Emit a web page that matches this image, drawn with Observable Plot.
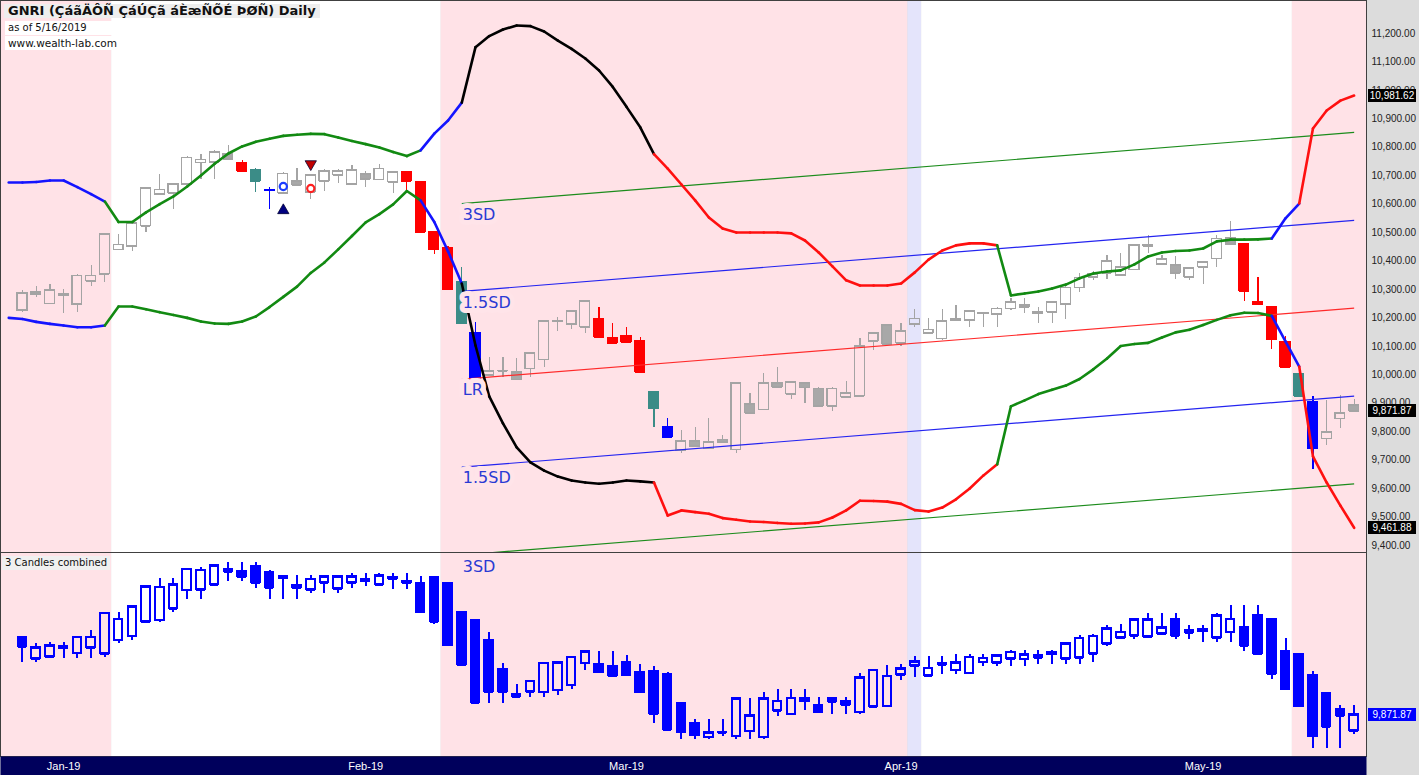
<!DOCTYPE html>
<html>
<head>
<meta charset="utf-8">
<script src="https://cdn.jsdelivr.net/npm/d3@7"></script>
<script src="https://cdn.jsdelivr.net/npm/@observablehq/plot@0.6"></script>
<style>
  html, body { margin: 0; padding: 0; background: #ffffff; }
  #chart { position: relative; width: 1419px; height: 775px; background: #dcdcdc; overflow: hidden;
           font-family: "Liberation Sans", Arial, sans-serif; }
  #chart > svg { position: absolute; left: 0; }
  .note { position: absolute; white-space: nowrap; color: #111; line-height: 14px; font-family: "DejaVu Sans", sans-serif; }
  .tag { position: absolute; left: 1368px; width: 48px; height: 13px; line-height: 13px;
         font-size: 10px; color: #fff; text-align: center; }
</style>
</head>
<body>
<div id="chart"></div>
<script>
// ---- Daily sessions. Index 0 is the first session on screen; the two sessions
// before it (-2, -1) only feed the three-bar combination in the lower pane.
const firstIndex = -2;
const open = [10347, 10214,
  10226, 10290, 10250, 10282, 10247, 10329, 10353, 10440, 10451, 10522,
  10634, 10638, 10669, 10746, 10747, 10777, 10744, 10721, 10650, 10638,
  10680, 10642, 10681, 10702, 10669, 10704, 10686, 10677, 10712, 10677,
  10501, 10447, 10326, 10148, 9998, 10012, 10009, 10021, 10053, 10186,
  10177, 10167, 10194, 10130, 10135, 10117, 9939, 9816, 9734, 9766,
  9740, 9771, 9736, 9896, 9877, 9970, 9931, 9970, 9951, 9889,
  9921, 9924, 10118, 10173, 10111, 10177, 10146, 10127, 10195, 10191,
  10214, 10212, 10232, 10244, 10214, 10220, 10247, 10306, 10343, 10357,
  10349, 10369, 10453, 10388, 10384, 10343, 10378, 10408, 10482, 10458,
  10257, 10238, 10115, 10003, 9904, 9775, 9845, 9892];
const high = [10350, 10262,
  10295, 10310, 10317, 10299, 10352, 10385, 10498, 10492, 10536, 10660,
  10704, 10672, 10766, 10775, 10787, 10806, 10753, 10724, 10660, 10710,
  10724, 10704, 10720, 10720, 10736, 10716, 10738, 10716, 10715, 10680,
  10504, 10450, 10378, 10185, 10060, 10060, 10056, 10079, 10192, 10200,
  10227, 10262, 10236, 10181, 10165, 10130, 9942, 9845, 9804, 9816,
  9845, 9787, 9974, 9935, 10006, 10027, 9977, 9973, 9954, 9954,
  9978, 10127, 10149, 10176, 10181, 10229, 10197, 10229, 10244, 10227,
  10220, 10235, 10267, 10267, 10236, 10258, 10309, 10357, 10364, 10419,
  10425, 10458, 10490, 10419, 10416, 10378, 10399, 10490, 10540, 10461,
  10341, 10241, 10135, 10006, 9924, 9910, 9927, 9912];
const low = [10240, 10190,
  10218, 10272, 10247, 10217, 10220, 10310, 10326, 10436, 10435, 10501,
  10630, 10580, 10665, 10686, 10686, 10755, 10712, 10642, 10580, 10634,
  10662, 10615, 10646, 10672, 10666, 10660, 10683, 10636, 10642, 10498,
  10423, 10296, 10176, 9944, 9995, 9992, 9980, 9992, 10025, 10153,
  10158, 10144, 10130, 10109, 10113, 10006, 9816, 9778, 9722, 9745,
  9737, 9760, 9724, 9862, 9874, 9953, 9912, 9900, 9886, 9872,
  9916, 9920, 10085, 10104, 10100, 10167, 10143, 10121, 10188, 10165,
  10165, 10165, 10226, 10214, 10181, 10179, 10193, 10290, 10332, 10334,
  10345, 10365, 10428, 10385, 10334, 10332, 10317, 10378, 10455, 10259,
  10245, 10088, 10024, 9920, 9666, 9751, 9810, 9869];
const close = [10250, 10226,
  10287, 10282, 10296, 10278, 10348, 10348, 10493, 10457, 10533, 10657,
  10651, 10669, 10763, 10756, 10783, 10759, 10716, 10681, 10648, 10707,
  10666, 10701, 10716, 10716, 10718, 10688, 10724, 10712, 10681, 10501,
  10440, 10299, 10179, 9946, 10012, 10014, 9982, 10076, 10188, 10190,
  10224, 10259, 10132, 10111, 10115, 10009, 9880, 9781, 9766, 9748,
  9763, 9762, 9970, 9865, 9970, 9956, 9974, 9954, 9889, 9951,
  9935, 10100, 10146, 10107, 10153, 10197, 10158, 10188, 10191, 10224,
  10217, 10232, 10255, 10238, 10220, 10255, 10306, 10341, 10353, 10399,
  10378, 10455, 10455, 10405, 10357, 10375, 10396, 10478, 10458, 10294,
  10247, 10123, 10027, 9924, 9740, 9798, 9865, 9871.87];

// Highlight of each visible session: g = plain, r = red, t = teal, b = blue
const candleKind = [
  "g","g","g","g","g","g","g","g","g","g","g","g","g","g","g","g",
  "r","t","b",
  "g","g","g","g","g","g","g","g","g",
  "r","r","r","r","t","b",
  "g","g","g","g","g","g","g","g",
  "r","r","r","r","t","b",
  "g","g","g","g","g","g","g","g","g","g",
  "g","g","g","g","g","g","g","g","g","g",
  "g","g","g","g","g","g","g","g","g","g",
  "g","g","g","g","g","g","g","g","g","g",
  "g",
  "r","r","r","r","t","b",
  "g","g","g"];

// Envelope around price, one value per session starting at session -1
const bandFirst = -1;
const upperBand = [10676, 10676, 10678, 10683, 10683, 10660, 10635, 10609, 10537, 10537,
  10571, 10600, 10627, 10662, 10701, 10742, 10778, 10803, 10819, 10830,
  10840, 10844, 10847, 10846, 10834, 10822, 10811, 10799, 10783, 10769,
  10789, 10848, 10894, 10957, 11152, 11191, 11214, 11228, 11226, 11207,
  11175, 11146, 11112, 11070, 11012, 10942, 10870, 10776, 10725, 10669,
  10613, 10553, 10514, 10500, 10500, 10500, 10500, 10497, 10472, 10430,
  10381, 10332, 10314, 10314, 10314, 10321, 10360, 10405, 10437, 10455,
  10462, 10462, 10455, 10279, 10286, 10293, 10303, 10317, 10339, 10356,
  10363, 10367, 10388, 10416, 10430, 10435, 10437, 10444, 10469, 10475,
  10475, 10476, 10479, 10550, 10602, 10866, 10929, 10964, 10981.62];
const lowerBand = [10200, 10196, 10186, 10179, 10173, 10167, 10167, 10173, 10240, 10240,
  10230, 10220, 10210, 10200, 10187, 10180, 10179, 10187, 10205, 10238,
  10274, 10310, 10358, 10395, 10441, 10488, 10536, 10565, 10599, 10646,
  10613, 10537, 10434, 10321, 10103, 9924, 9829, 9745, 9692, 9663,
  9642, 9628, 9621, 9617, 9621, 9628, 9625, 9621, 9505, 9523,
  9517, 9511, 9496, 9490, 9484, 9482, 9479, 9476, 9477, 9481,
  9498, 9523, 9557, 9556, 9554, 9546, 9524, 9519, 9533, 9562,
  9600, 9646, 9685, 9889, 9910, 9932, 9947, 9962, 9985, 10019,
  10057, 10101, 10108, 10112, 10131, 10149, 10158, 10175, 10193, 10209,
  10218, 10217, 10207, 10117, 10029, 9713, 9621, 9540, 9461.88];
// Envelope state by runs of sessions: [colour, first session, last session]
const bandRuns = [
  ["#1414ff", -1, 6], ["#128a12", 7, 29], ["#1414ff", 30, 32], ["#000000", 33, 46],
  ["#ff1010", 47, 71], ["#128a12", 72, 91], ["#1414ff", 92, 93], ["#ff1010", 94, 97]];

// Linear-regression channel over sessions 32..97
const regFrom = 32, regTo = 97;
const lrStart = 9984, lrEnd = 10234, sd = 206;
const channelLines = [
  {k: 3, label: "3SD", color: "#1c8c1c"},
  {k: 1.5, label: "1.5SD", color: "#2424f0"},
  {k: 0, label: "LR", color: "#ff2a2a"},
  {k: -1.5, label: "1.5SD", color: "#2424f0"},
  {k: -3, label: "3SD", color: "#1c8c1c"}];

// Signal markers
const signalCircles = [{i: 19, v: 10662, color: "#1a3cff"}, {i: 21, v: 10655, color: "#ff2020"}];
const signalArrows = [{i: 19, v: 10578, rotate: 0, color: "#000080"}, {i: 21, v: 10741, rotate: 180, color: "#c00000"}];

// Shaded session ranges: [from, to, colour]
const shading = [
  [-1.6, 6.5, "#ffe2e7"], [6.5, 30.5, "#ffffff"], [30.5, 64.5, "#ffe2e7"],
  [64.5, 65.5, "#e4e4fb"], [65.5, 92.5, "#ffffff"], [92.5, 97.9, "#ffe2e7"]];

// Month labels on the session axis
const monthLabels = ["Jan-19", "Feb-19", "Mar-19", "Apr-19", "May-19"];
const monthStart = [3, 25, 44, 64, 86];

// Price axis ticks
const priceTicks = d3.range(9400, 11201, 100);

const xDomain = [-1.6, 97.9];
const fontFamily = "'Liberation Sans', Arial, sans-serif";
const labelFont = "'DejaVu Sans', sans-serif";

// ---- Build records
const bars = open.map((o, k) => ({i: k + firstIndex, open: o, high: high[k], low: low[k], close: close[k]}));
const shown = bars.filter(d => d.i >= 0).map(d => ({...d, kind: candleKind[d.i]}));

// Three consecutive sessions merged into one candle
const combined = shown.map(d => {
  const k = d.i - firstIndex;
  const w = bars.slice(k - 2, k + 1);
  return {i: d.i, open: w[0].open, close: w[2].close, high: d3.max(w, b => b.high), low: d3.min(w, b => b.low)};
});

const bandColorAt = i => bandRuns.find(([, a, b]) => i >= a && i <= b)[0];
function segments(values) {
  return values.slice(1).map((v, k) => {
    const i = k + 1 + bandFirst;
    return {x1: i - 1, y1: values[k], x2: i, y2: v, color: bandColorAt(i)};
  });
}
const bandSegs = [...segments(upperBand), ...segments(lowerBand)];

const kindColor = {r: "#ff0000", t: "#3b8c87", b: "#0000ff"};
const mainStroke = d => d.kind === "g" ? "#a4a4a4" : kindColor[d.kind];
const mainFill = d => d.kind === "g" ? (d.close >= d.open ? "none" : "#a8a8a8") : kindColor[d.kind];

function candleMarks(rows, {half, stroke, fill, width}) {
  const lo = d => Math.min(d.open, d.close), hi = d => Math.max(d.open, d.close);
  const common = {stroke, strokeWidth: width, shapeRendering: "crispEdges"};
  return [
    Plot.ruleX(rows, {x: "i", y1: "low", y2: lo, ...common}),
    Plot.ruleX(rows, {x: "i", y1: hi, y2: "high", ...common}),
    Plot.rect(rows, {x1: d => d.i - half, x2: d => d.i + half, y1: "open", y2: "close", fill, ...common}),
    Plot.ruleY(rows, {y: "open", x1: d => d.i - half, x2: d => d.i + half, ...common}),
    Plot.ruleY(rows, {y: "close", x1: d => d.i - half, x2: d => d.i + half, ...common})
  ];
}

const shadeMarks = Plot.rect(shading, {x1: d => d[0], x2: d => d[1], fill: d => d[2]});
const baseStyle = {background: "transparent", fontFamily, fontSize: "10px", color: "#222", overflow: "visible"};

// ---- Price pane
const main = Plot.plot({
  width: 1419, height: 552,
  marginLeft: 0, marginRight: 53, marginTop: 0, marginBottom: 0,
  x: {domain: xDomain, axis: null},
  y: {domain: [9375, 11316], axis: null},
  color: {type: "identity"},
  style: baseStyle,
  marks: [
    shadeMarks,
    Plot.axisY(priceTicks, {anchor: "right", tickSize: 0, tickPadding: 5, tickFormat: d3.format(",.2f"), fontSize: 10, fill: "#222"}),
    ...candleMarks(shown, {half: 0.36, stroke: mainStroke, fill: mainFill, width: 1.2}),
    Plot.link(channelLines, {
      x1: () => regFrom, x2: () => regTo,
      y1: d => lrStart + d.k * sd, y2: d => lrEnd + d.k * sd,
      stroke: "color", strokeWidth: 1.2, clip: true
    }),
    Plot.link(bandSegs, {x1: "x1", y1: "y1", x2: "x2", y2: "y2", stroke: "color", strokeWidth: 2.6, strokeLinecap: "round"}),
    Plot.dot(signalCircles, {x: "i", y: "v", r: 3.6, stroke: "color", strokeWidth: 2.2, fill: "white"}),
    Plot.dot(signalArrows, {x: "i", y: "v", symbol: "triangle", r: 4.2, rotate: "rotate", fill: "color", stroke: "#000033", strokeWidth: 0.8}),
    Plot.text(channelLines.filter(d => lrStart + d.k * sd > 9375), {
      x: () => regFrom, y: d => lrStart + d.k * sd, text: "label", dy: 11, dx: 1,
      textAnchor: "start", fontSize: 16, fontFamily: labelFont, fill: "#2a3ad4",
      stroke: "#ffe4e9", strokeWidth: 10, strokeLinejoin: "round"
    }),
    Plot.frame({stroke: "#404040"})
  ]
});
main.style.top = "0px";

// ---- Three-candle pane
const lowerLabel = channelLines.filter(d => lrStart + d.k * sd <= 9375);
const lower = Plot.plot({
  width: 1419, height: 204,
  marginLeft: 0, marginRight: 53, marginTop: 0, marginBottom: 0,
  x: {domain: xDomain, axis: null},
  y: {domain: [9617, 10865], axis: null},
  color: {type: "identity"},
  style: baseStyle,
  marks: [
    shadeMarks,
    ...candleMarks(combined, {half: 0.31, stroke: "#0000ff", fill: d => d.close >= d.open ? "none" : "#0000ff", width: 2}),
    Plot.text(lowerLabel, {x: () => regFrom, text: "label", frameAnchor: "top", dy: 8, dx: 1, textAnchor: "start",
      fontSize: 16, fontFamily: labelFont, fill: "#2a3ad4"}),
    Plot.frame({stroke: "#404040"})
  ]
});
lower.style.top = "552px";

// ---- Session axis strip
const axisStrip = Plot.plot({
  width: 1419, height: 19,
  marginLeft: 0, marginRight: 53, marginTop: 0, marginBottom: 0,
  x: {domain: xDomain, axis: null},
  style: baseStyle,
  marks: [
    Plot.frame({fill: "#00005c"}),
    Plot.text(monthLabels, {x: (d, k) => monthStart[k], text: d => d, frameAnchor: "middle", fill: "white", fontSize: 11})
  ]
});
axisStrip.style.top = "756px";

const chart = document.getElementById("chart");
chart.append(main, lower, axisStrip);

// ---- Header notes
function note(text, top, left, css) {
  const el = document.createElement("div");
  el.className = "note";
  el.textContent = text;
  el.style.top = top + "px";
  el.style.left = left + "px";
  Object.assign(el.style, css);
  chart.appendChild(el);
}
note("GNRI (ÇáãÄÔÑ ÇáÚÇã áÈæÑÕÉ ÞØÑ) Daily", 4, 4, {fontWeight: "bold", fontSize: "13px", background: "#eeeeee", padding: "0 4px"});
note("as of 5/16/2019", 21, 5, {fontSize: "10px", background: "#ffffff", padding: "0 3px", width: "114px"});
note("www.wealth-lab.com", 36, 5, {fontSize: "10.5px", background: "#ffffff", padding: "0 3px", width: "114px"});
note("3 Candles combined", 556, 2, {fontSize: "10px", background: "#f0f0f0", padding: "0 3px"});

// ---- Last-value tags on the price axis
function tag(plot, offset, value, bg) {
  const y = plot.scale("y").apply(value) + offset;
  const el = document.createElement("div");
  el.className = "tag";
  el.textContent = d3.format(",.2f")(value);
  el.style.top = (y - 6.5) + "px";
  el.style.background = bg;
  chart.appendChild(el);
}
tag(main, 0, upperBand[upperBand.length - 1], "#000000");
tag(main, 0, close[close.length - 1], "#000000");
tag(main, 0, lowerBand[lowerBand.length - 1], "#000000");
tag(lower, 552, close[close.length - 1], "#0000ff");
</script>
</body>
</html>
